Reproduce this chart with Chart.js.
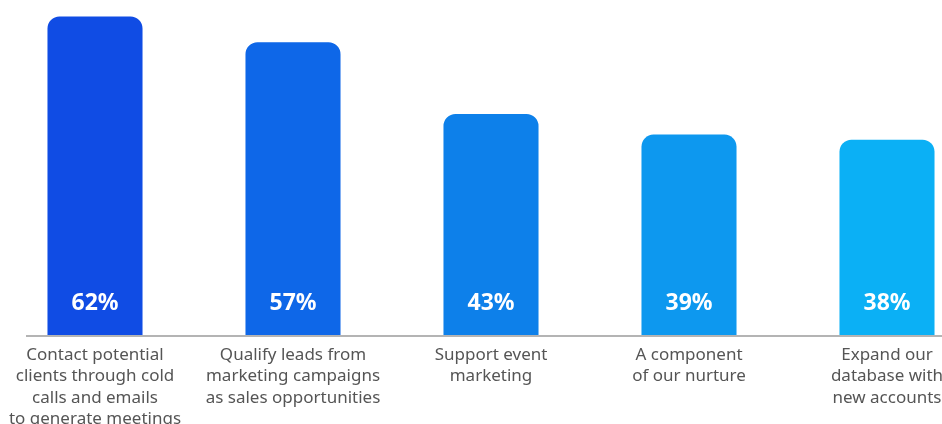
<!DOCTYPE html>
<html>
<head>
<meta charset="utf-8">
<script src="https://cdn.jsdelivr.net/npm/chart.js@4"></script>
<style>
  html, body { margin: 0; padding: 0; background: #fff; overflow: hidden; width: 942px; height: 424px; }
  #wrap { position: absolute; left: -4px; top: 0; width: 990px; height: 445px; }
</style>
</head>
<body>
<div id="wrap"><canvas id="tasksChart"></canvas></div>
<script>
var taskLabels = [
    ['Contact potential', 'clients through cold', 'calls and emails', 'to generate meetings'],
    ['Qualify leads from', 'marketing campaigns', 'as sales opportunities'],
    ['Support event', 'marketing'],
    ['A component', 'of our nurture'],
    ['Expand our', 'database with', 'new accounts']
]
var taskShares = [62, 57, 43, 39, 38]
var barColors = ['#104ce4', '#0e67e8', '#0d80ea', '#0d98ef', '#0bb0f5']

// white percentage inside the foot of each bar
const valueLabels = {
    id: 'valueLabels',
    afterDatasetsDraw: function (chart) {
        const ctx = chart.ctx
        const meta = chart.getDatasetMeta(0)
        const base = chart.scales.y.getPixelForValue(0)
        ctx.save()
        ctx.fillStyle = '#ffffff'
        ctx.font = 'bold 23px "Noto Sans"'
        ctx.textAlign = 'center'
        ctx.textBaseline = 'middle'
        meta.data.forEach(function (bar, i) {
            ctx.fillText(taskShares[i] + '%', bar.x, base - 32)
        })
        ctx.restore()
    }
}

// grey baseline under the bars
const baseLine = {
    id: 'baseLine',
    afterDatasetsDraw: function (chart) {
        const ctx = chart.ctx
        const y = chart.scales.y.getPixelForValue(0) + 1
        ctx.save()
        ctx.strokeStyle = '#b4b4b4'
        ctx.lineWidth = 2
        ctx.beginPath()
        ctx.moveTo(30, y)
        ctx.lineTo(chart.width, y)
        ctx.stroke()
        ctx.restore()
    }
}

const tChart = document.getElementById('tasksChart').getContext('2d')

new Chart(tChart, {
    type: 'bar',
    data: {
        labels: taskLabels,
        datasets: [{
            data: taskShares,
            backgroundColor: barColors,
            borderRadius: 12,
            borderSkipped: 'bottom',
            categoryPercentage: 1,
            barPercentage: 0.48
        }]
    },
    options: {
        responsive: true,
        maintainAspectRatio: false,
        animation: false,
        layout: { padding: 0 },
        plugins: {
            legend: { display: false },
            tooltip: { enabled: false }
        },
        scales: {
            x: {
                grid: { display: false, drawTicks: false },
                border: { display: false },
                ticks: {
                    padding: 10,
                    color: '#555555',
                    maxRotation: 0,
                    autoSkip: false,
                    font: { family: '"Noto Sans"', size: 17, lineHeight: 1.24 }
                },
                afterFit: function (scale) {
                    scale.height = 110
                }
            },
            y: {
                display: false,
                min: 0,
                max: 65.2
            }
        }
    },
    plugins: [baseLine, valueLabels]
})
</script>
</body>
</html>
